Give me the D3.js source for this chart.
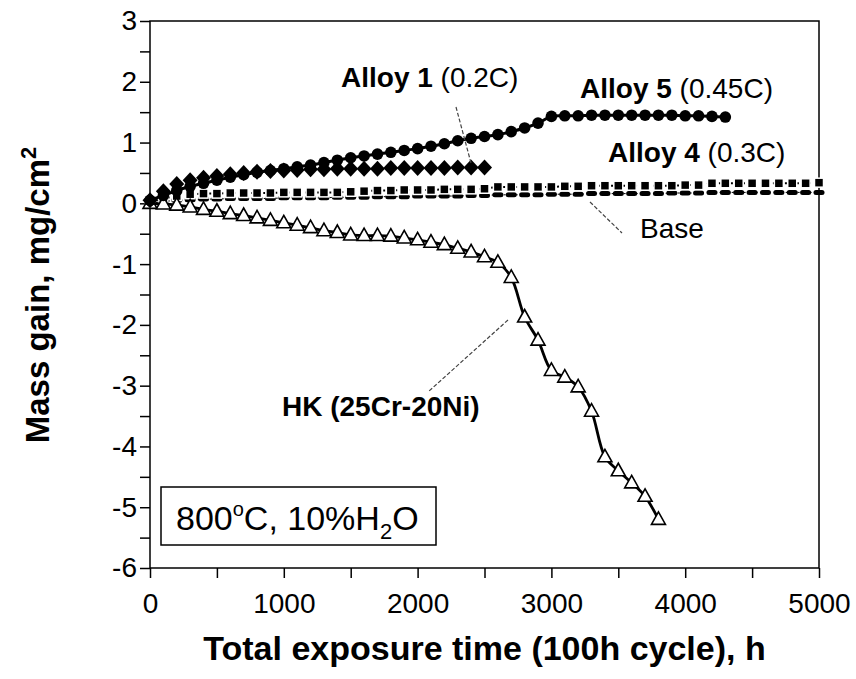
<!DOCTYPE html>
<html>
<head>
<meta charset="utf-8">
<script src="https://cdn.jsdelivr.net/npm/d3@7"></script>
<style>
  body { margin: 0; background: #fff; }
  svg text { font-family: "Liberation Sans", Arial, sans-serif; fill: #000; }
</style>
</head>
<body>
<div id="chart-area"></div>
<script>
// one reading every 100 h cycle
var cycleHours = 100;

// mass gain (mg/cm2) per cycle
var alloy5 = [0.05,0.13,0.21,0.28,0.33,0.38,0.43,0.47,0.51,0.54,
              0.57,0.60,0.63,0.67,0.71,0.75,0.78,0.81,0.84,0.87,
              0.90,0.94,0.98,1.03,1.07,1.10,1.13,1.18,1.24,1.32,
              1.43,1.44,1.44,1.45,1.45,1.45,1.45,1.45,1.45,1.45,
              1.44,1.44,1.43,1.42];
var alloy1 = [0.05,0.20,0.32,0.38,0.42,0.45,0.48,0.50,0.52,0.53,
              0.54,0.55,0.56,0.56,0.57,0.57,0.57,0.57,0.58,0.58,
              0.58,0.58,0.58,0.59,0.59,0.59];
var alloy4 = [0.03,0.08,0.12,0.15,0.16,0.16,0.17,0.17,0.17,0.17,
              0.18,0.18,0.18,0.18,0.18,0.19,0.20,0.21,0.21,0.22,
              0.22,0.22,0.23,0.23,0.23,0.24,0.27,0.27,0.27,0.27,
              0.27,0.28,0.28,0.29,0.29,0.29,0.29,0.29,0.29,0.29,
              0.30,0.30,0.33,0.33,0.33,0.33,0.33,0.33,0.33,0.33,
              0.34];
var base = [0.00,0.03,0.05,0.06,0.07,0.07,0.08,0.08,0.08,0.08,
            0.09,0.09,0.09,0.09,0.10,0.10,0.10,0.11,0.11,0.11,
            0.12,0.12,0.12,0.12,0.13,0.13,0.14,0.14,0.14,0.14,
            0.15,0.15,0.15,0.16,0.16,0.16,0.16,0.16,0.16,0.17,
            0.17,0.17,0.18,0.18,0.18,0.18,0.18,0.18,0.18,0.18,
            0.18];
var hk = [0.00,-0.01,-0.03,-0.06,-0.10,-0.13,-0.17,-0.20,-0.24,-0.28,
          -0.32,-0.36,-0.40,-0.45,-0.48,-0.52,-0.53,-0.53,-0.54,-0.57,
          -0.60,-0.64,-0.68,-0.74,-0.80,-0.88,-0.97,-1.22,-1.87,-2.25,
          -2.75,-2.86,-3.02,-3.42,-4.17,-4.40,-4.60,-4.82,-5.20];

var xTicks = [0,1000,2000,3000,4000,5000];
var yTicks = [3,2,1,0,-1,-2,-3,-4,-5,-6];

var margin = {left:150, right:37, top:21, bottom:111};
var width = 856 - margin.left - margin.right;
var height = 679 - margin.top - margin.bottom;

var svg = d3.select("#chart-area").append("svg")
    .attr("width", 856)
    .attr("height", 679);

var g = svg.append("g")
    .attr("transform", "translate(" + margin.left + "," + margin.top + ")");

var x = d3.scaleLinear().domain([0,5000]).range([0,width]);
var y = d3.scaleLinear().domain([-6,3]).range([height,0]);

function pts(arr){
    return arr.map(function(v,i){ return {t: i*cycleHours, v: v}; });
}

// axes
var xAxis = d3.axisBottom(x)
    .tickValues(d3.range(0,5001,500))
    .tickSize(10)
    .tickFormat(function(d){ return xTicks.indexOf(d) >= 0 ? d : ""; });
var xg = g.append("g")
    .attr("transform","translate(0," + height + ")")
    .call(xAxis);
xg.selectAll("text")
    .attr("font-size","28px")
    .attr("dy","1.15em");

var yAxis = d3.axisLeft(y)
    .tickValues(d3.range(-6,3.01,0.5))
    .tickSize(10)
    .tickFormat(function(d){ return yTicks.indexOf(d) >= 0 ? d : ""; });
var yg = g.append("g").call(yAxis);
yg.selectAll("text")
    .attr("font-size","28px")
    .attr("x",-13);

[xg,yg].forEach(function(a){
    a.select(".domain").remove();
    a.selectAll(".tick line").attr("stroke","#000").attr("stroke-width",1.5);
});

// plot frame
g.append("rect")
    .attr("width",width)
    .attr("height",height)
    .attr("fill","none")
    .attr("stroke","#000")
    .attr("stroke-width",1.5);

var smooth = d3.line()
    .x(function(d){ return x(d.t); })
    .y(function(d){ return y(d.v); })
    .curve(d3.curveCatmullRom);
var straight = d3.line()
    .x(function(d){ return x(d.t); })
    .y(function(d){ return y(d.v); });

// Base: short bars with a dashed line
g.append("path")
    .attr("d", straight(pts(base)))
    .attr("fill","none")
    .attr("stroke","#000")
    .attr("stroke-width",1)
    .attr("stroke-dasharray","2,4");
g.selectAll(".base").data(pts(base)).enter().append("rect")
    .attr("x",function(d){ return x(d.t)-5.5; })
    .attr("y",function(d){ return y(d.v)-2.5; })
    .attr("width",11)
    .attr("height",5)
    .attr("rx",2.5)
    .attr("fill","#000");

// Alloy 4: small squares with a dotted line
g.append("path")
    .attr("d", straight(pts(alloy4)))
    .attr("fill","none")
    .attr("stroke","#000")
    .attr("stroke-width",2)
    .attr("stroke-dasharray","2,4");
g.selectAll(".a4").data(pts(alloy4)).enter().append("rect")
    .attr("x",function(d){ return x(d.t)-4.5; })
    .attr("y",function(d){ return y(d.v)-4.5; })
    .attr("width",9)
    .attr("height",9)
    .attr("fill","#000")
    .attr("stroke","#fff")
    .attr("stroke-width",1.5);

// HK: open triangles with a smooth line
g.append("path")
    .attr("d", smooth(pts(hk)))
    .attr("fill","none")
    .attr("stroke","#000")
    .attr("stroke-width",2.8);
g.selectAll(".hk").data(pts(hk)).enter().append("path")
    .attr("transform",function(d){ return "translate(" + x(d.t) + "," + y(d.v) + ")"; })
    .attr("d","M0,-7.5L7,5L-7,5Z")
    .attr("fill","#fff")
    .attr("stroke","#000")
    .attr("stroke-width",1.6);

// Alloy 1: filled diamonds
g.selectAll(".a1").data(pts(alloy1)).enter().append("path")
    .attr("transform",function(d){ return "translate(" + x(d.t) + "," + y(d.v) + ")"; })
    .attr("d","M0,-8L7.5,0L0,8L-7.5,0Z")
    .attr("fill","#000");

// Alloy 5: filled circles with a smooth line
g.append("path")
    .attr("d", smooth(pts(alloy5)))
    .attr("fill","none")
    .attr("stroke","#000")
    .attr("stroke-width",3);
g.selectAll(".a5").data(pts(alloy5)).enter().append("circle")
    .attr("cx",function(d){ return x(d.t); })
    .attr("cy",function(d){ return y(d.v); })
    .attr("r",5.8)
    .attr("fill","#000");

// leader lines
var leaders = [[456,107,471,163],[590,202,622,233],[508,320,428,392]];
svg.selectAll(".leader").data(leaders).enter().append("line")
    .attr("x1",function(d){ return d[0]; })
    .attr("y1",function(d){ return d[1]; })
    .attr("x2",function(d){ return d[2]; })
    .attr("y2",function(d){ return d[3]; })
    .attr("stroke","#444")
    .attr("stroke-width",1.2)
    .attr("stroke-dasharray","4,2");

// series labels
function label(px, py, bold, normal){
    var t = svg.append("text").attr("x",px).attr("y",py).attr("font-size","28px");
    t.append("tspan").attr("font-weight","bold").text(bold);
    if (normal) t.append("tspan").text(normal);
    return t;
}
label(341, 87, "Alloy 1", " (0.2C)");
label(580, 98, "Alloy 5", " (0.45C)");
label(608, 162, "Alloy 4", " (0.3C)");
label(640, 238, "", "Base");
label(282, 416, "HK (25Cr-20Ni)", null);

// condition box
svg.append("rect")
    .attr("x",161).attr("y",487)
    .attr("width",275).attr("height",58)
    .attr("fill","#fff")
    .attr("stroke","#000")
    .attr("stroke-width",1.5);
var cond = svg.append("text").attr("x",176).attr("y",530).attr("font-size","34px");
cond.append("tspan").text("800");
cond.append("tspan").attr("font-size","20px").attr("dy","-14").text("o");
cond.append("tspan").attr("dy","14").text("C, 10%H");
cond.append("tspan").attr("font-size","22px").attr("dy","9").text("2");
cond.append("tspan").attr("dy","-9").text("O");

// axis titles
svg.append("text")
    .attr("x", margin.left + width/2)
    .attr("y", 660)
    .attr("text-anchor","middle")
    .attr("font-size","34px")
    .attr("font-weight","bold")
    .text("Total exposure time (100h cycle), h");

var yt = svg.append("text")
    .attr("transform","translate(49,295) rotate(-90)")
    .attr("text-anchor","middle")
    .attr("font-size","33px")
    .attr("font-weight","bold");
yt.append("tspan").text("Mass gain, mg/cm");
yt.append("tspan").attr("font-size","22px").attr("dy","-13").text("2");
</script>
</body>
</html>
